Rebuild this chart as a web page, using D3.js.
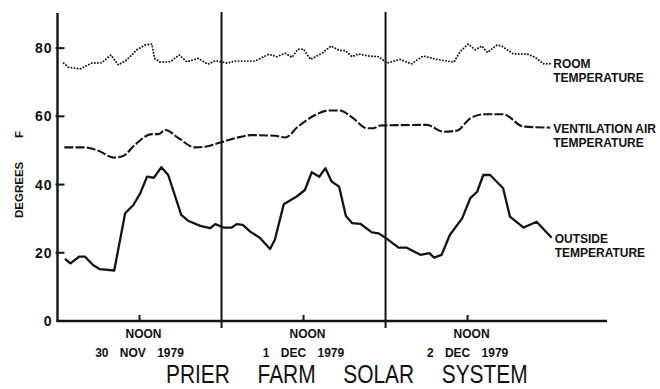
<!DOCTYPE html>
<html><head><meta charset="utf-8">
<script src="https://cdn.jsdelivr.net/npm/d3@7"></script>
<style>
html,body{margin:0;padding:0;background:#fff;}
svg{display:block;}
text{font-family:"Liberation Sans",Arial,sans-serif;fill:#111;}
</style></head>
<body>
<svg id="chart" width="660" height="389"></svg>
<script>
// ---- data (hours from midnight 30 Nov 1979, degrees F) ----
const yTicks = [0, 20, 40, 60, 80];
const dayLabels = ["30 NOV 1979", "1 DEC 1979", "2 DEC 1979"];
const noonLabel = "NOON";
const dayBoundaries = [24, 48];
const noonHours = [12, 36, 60];

const hoursRoom = [0.9,1.6,3.3,5.0,6.5,7.8,8.9,10.1,11.6,12.8,13.8,14.2,15.0,16.5,17.8,18.9,20.6,22.0,23.1,24.8,26.0,28.9,30.9,32.1,33.3,34.3,35.2,36.0,37.0,38.7,40.0,41.3,42.1,43.1,44.0,45.5,47.0,48.2,50.1,51.8,53.5,55.5,58.0,58.9,60.1,61.1,62.1,62.9,64.3,65.0,66.7,68.7,69.9,71.1,72.1];
const roomTemp = [75.6,74.4,73.9,75.6,75.7,78.0,75.1,76.5,79.5,80.9,81.2,77.0,75.9,76.0,78.0,76.0,77.0,75.3,76.3,75.6,76.2,76.2,78.2,77.5,78.5,77.3,79.7,79.7,76.7,78.5,80.6,79.3,79.3,77.5,78.3,77.7,77.5,75.6,76.7,75.4,77.7,76.7,75.9,79.0,81.2,79.5,80.6,78.7,80.9,80.6,78.3,78.3,77.3,75.4,75.4];

const hoursVent = [1.0,4.0,6.0,8.2,9.6,11.3,13.8,14.8,15.8,17.7,20.1,21.6,23.8,26.0,28.4,31.8,33.3,35.2,37.7,39.6,41.3,43.1,45.3,46.2,47.2,54.0,56.5,58.4,60.4,62.3,65.2,68.2,72.1];
const ventTemp = [50.9,50.9,49.9,47.9,48.4,51.6,54.8,54.8,56.0,53.6,50.9,51.1,52.3,53.6,54.5,54.3,53.8,57.0,60.4,61.7,61.7,59.7,56.5,56.5,57.3,57.5,55.5,55.8,59.4,60.6,60.6,57.0,56.7];

const hoursOutside = [1.1,1.9,3.2,4.0,5.2,6.2,8.3,9.9,11.1,12.1,13.1,14.1,15.2,16.2,18.1,19.1,20.9,22.3,23.1,24.3,25.5,26.2,27.1,28.2,29.6,31.1,31.8,33.1,35.0,36.2,37.2,38.3,39.2,40.1,41.2,42.2,43.1,44.3,46.0,47.0,48.4,49.9,51.1,53.1,54.4,55.1,56.2,57.4,59.2,60.4,61.4,62.3,63.3,65.2,66.2,68.2,70.1,72.3];
const outsideTemp = [18.2,16.9,18.9,18.9,16.4,15.2,14.8,31.6,34.0,37.4,42.3,42.0,45.1,42.8,31.1,29.4,27.9,27.2,28.4,27.4,27.4,28.4,28.2,26.2,24.4,21.1,23.8,34.2,36.5,38.4,43.6,42.3,44.8,40.9,39.4,30.8,28.7,28.5,26.0,25.7,23.8,21.5,21.5,19.4,19.9,18.6,19.4,25.2,30.1,36.0,37.9,42.8,42.8,38.9,30.6,27.4,29.1,24.4];

const roomLabel = ["ROOM", "TEMPERATURE"];
const ventLabel = ["VENTILATION AIR", "TEMPERATURE"];
const outsideLabel = ["OUTSIDE", "TEMPERATURE"];
const titleText = "PRIER FARM SOLAR SYSTEM";
const yAxisTitle = ["DEGREES", "F"];

// ---- layout ----
const ink = "#141414";
const svg = d3.select("#chart");
const pL = 57.5, pR = 607, pT = 13, pB = 321;
const x = d3.scaleLinear().domain([0, 80.4]).range([pL, pR]);
const y = d3.scaleLinear().domain([0, 90.3]).range([pB, pT]);

// axes frame
svg.append("line").attr("x1", pL).attr("x2", pL).attr("y1", pT).attr("y2", pB + 1)
  .attr("stroke", ink).attr("stroke-width", 2.4);
svg.append("line").attr("x1", pL - 1).attr("x2", pR).attr("y1", pB).attr("y2", pB)
  .attr("stroke", ink).attr("stroke-width", 2.4);

// y ticks & labels
const yt = svg.append("g");
yt.selectAll("line").data(yTicks.filter(d => d > 0)).join("line")
  .attr("x1", pL - 2).attr("x2", pL + 7)
  .attr("y1", d => y(d)).attr("y2", d => y(d))
  .attr("stroke", ink).attr("stroke-width", 2);
yt.selectAll("text").data(yTicks).join("text")
  .attr("x", pL - 5).attr("y", d => y(d))
  .attr("dy", "0.36em").attr("text-anchor", "end")
  .attr("font-size", 14).attr("font-weight", "bold").attr("letter-spacing", 1)
  .text(d => d);

// y axis title
const yTitle = svg.append("text").attr("transform", "translate(23,218) rotate(-90)")
  .attr("font-size", 11.5).attr("font-weight", "bold");
yTitle.append("tspan").attr("x", 0).text(yAxisTitle[0]);
yTitle.append("tspan").attr("x", 80).text(yAxisTitle[1]);

// day separators
svg.selectAll(".sep").data(dayBoundaries).join("line").attr("class", "sep")
  .attr("x1", d => x(d)).attr("x2", d => x(d)).attr("y1", pT - 1).attr("y2", pB + 7)
  .attr("stroke", ink).attr("stroke-width", 2);

// noon ticks
svg.selectAll(".noon").data(noonHours).join("line").attr("class", "noon")
  .attr("x1", d => x(d)).attr("x2", d => x(d)).attr("y1", pB - 6).attr("y2", pB)
  .attr("stroke", ink).attr("stroke-width", 2);
svg.selectAll(".noonlab").data(noonHours).join("text").attr("class", "noonlab")
  .attr("x", d => x(d) + 4).attr("y", 338).attr("text-anchor", "middle")
  .attr("font-size", 12).attr("font-weight", "bold").text(noonLabel);
svg.selectAll(".daylab").data(noonHours).join("text").attr("class", "daylab")
  .attr("x", d => x(d)).attr("y", 357).attr("text-anchor", "middle")
  .attr("font-size", 12).attr("font-weight", "bold").attr("word-spacing", 8)
  .text((d, i) => dayLabels[i]);

// series
function draw(hours, vals, opts) {
  const pts = hours.map((h, i) => [h, vals[i]]);
  const line = d3.line().x(d => x(d[0])).y(d => y(d[1])).curve(opts.curve || d3.curveLinear);
  svg.append("path").datum(pts).attr("d", line).attr("fill", "none")
    .attr("stroke", ink).attr("stroke-width", opts.w)
    .attr("stroke-dasharray", opts.dash || null)
    .attr("stroke-linecap", opts.cap || "butt")
    .attr("stroke-linejoin", "round");
  return pts[pts.length - 1];
}
const lastRoom = draw(hoursRoom, roomTemp, {w: 1.9, dash: "0.1,3", cap: "round"});
const lastVent = draw(hoursVent, ventTemp, {w: 2.1, dash: "9,2.2", curve: d3.curveMonotoneX});
const lastOut = draw(hoursOutside, outsideTemp, {w: 2.3});

function seriesLabel(last, lines, dy) {
  const t = svg.append("text").attr("x", x(last[0]) + 3).attr("y", y(last[1]) + dy)
    .attr("font-size", 12).attr("font-weight", "bold");
  lines.forEach((s, i) => t.append("tspan").attr("x", x(last[0]) + 3).attr("dy", i ? 14 : 0).text(s));
}
seriesLabel(lastRoom, roomLabel, 4);
seriesLabel(lastVent, ventLabel, 5);
seriesLabel(lastOut, outsideLabel, 5);

// title
svg.append("text").attr("transform", "translate(166,383) scale(0.837,1)")
  .attr("font-family", "Lato, 'Open Sans', sans-serif").attr("font-weight", 300)
  .attr("font-size", 25).attr("word-spacing", 26).text(titleText);
</script>
</body></html>
